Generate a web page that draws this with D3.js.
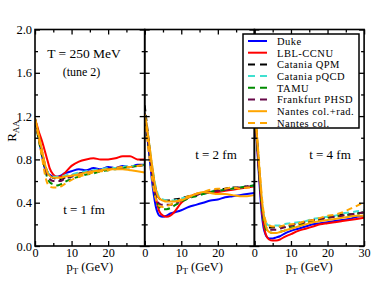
<!DOCTYPE html>
<html><head><meta charset="utf-8">
<script src="https://cdn.jsdelivr.net/npm/d3@7"></script>
<style>
html,body{margin:0;padding:0;background:#fff;}
svg{display:block;font-family:"Liberation Serif","Times New Roman",serif;}
</style></head>
<body><svg id="c" width="374" height="289"></svg>
<script>
// ---- data ----
const pT = [0,0.5,1,1.5,2,2.5,3,3.5,4,5,6,7,8,10,12,14,16,18,20,22,24,26,28,30];
const models = ["Duke","LBL-CCNU","Catania QPM","Catania pQCD","TAMU","Frankfurt PHSD","Nantes col.+rad.","Nantes col."];
const colors = ["#0000ff","#ff0000","#000000","#40e0d0","#008b00","#670748","#ffa500","#ffa500"];
const dashed = [false,false,true,true,true,true,false,true];
const panelLabels = ["t = 1 fm","t = 2 fm","t = 4 fm"];
const xTickLabels = [["0","10","20"],["0","10","20"],["0","10","20","30"]];
const yTickLabels = ["0.0","0.4","0.8","1.2","1.6","2.0"];

// t = 1 fm
const duke_t1 = [1.17,1.09,1.0,0.91,0.82,0.74,0.69,0.67,0.66,0.64,0.64,0.65,0.67,0.69,0.71,0.70,0.72,0.71,0.73,0.72,0.74,0.73,0.75,0.75];
const lbl_t1  = [1.17,1.12,1.06,1.01,0.96,0.90,0.84,0.78,0.72,0.66,0.64,0.64,0.67,0.74,0.78,0.80,0.81,0.80,0.80,0.81,0.83,0.83,0.80,0.80];
const qpm_t1  = [1.18,1.10,1.02,0.94,0.86,0.78,0.72,0.68,0.65,0.63,0.62,0.62,0.63,0.65,0.67,0.68,0.69,0.70,0.71,0.72,0.72,0.73,0.74,0.75];
const pqcd_t1 = [1.16,1.09,1.01,0.93,0.85,0.78,0.72,0.68,0.66,0.64,0.64,0.64,0.65,0.66,0.68,0.69,0.70,0.71,0.72,0.72,0.73,0.74,0.74,0.75];
const tamu_t1 = [1.15,1.07,0.98,0.90,0.82,0.74,0.67,0.62,0.59,0.57,0.56,0.57,0.59,0.62,0.64,0.66,0.67,0.69,0.70,0.71,0.72,0.73,0.74,0.75];
const phsd_t1 = [1.16,1.08,1.00,0.92,0.84,0.76,0.69,0.65,0.62,0.60,0.60,0.60,0.62,0.64,0.66,0.68,0.69,0.70,0.71,0.72,0.73,0.73,0.74,0.75];
const ncr_t1  = [1.18,1.11,1.03,0.95,0.87,0.79,0.72,0.67,0.65,0.63,0.63,0.63,0.64,0.65,0.66,0.68,0.69,0.70,0.71,0.71,0.71,0.70,0.69,0.68];
const nc_t1   = [1.17,1.09,1.00,0.90,0.80,0.70,0.62,0.57,0.55,0.54,0.54,0.55,0.57,0.61,0.64,0.66,0.68,0.69,0.70,0.72,0.73,0.73,0.74,0.75];
// t = 2 fm
const duke_t2 = [1.22,1.08,0.92,0.76,0.60,0.47,0.37,0.31,0.28,0.27,0.28,0.30,0.31,0.33,0.36,0.38,0.40,0.42,0.43,0.45,0.46,0.47,0.48,0.49];
const lbl_t2  = [1.24,1.12,0.98,0.84,0.70,0.57,0.46,0.38,0.32,0.28,0.27,0.28,0.31,0.40,0.45,0.48,0.49,0.50,0.50,0.51,0.52,0.53,0.54,0.55];
const qpm_t2  = [1.30,1.15,1.00,0.86,0.73,0.62,0.53,0.47,0.44,0.42,0.42,0.42,0.43,0.44,0.46,0.47,0.49,0.50,0.52,0.53,0.54,0.54,0.55,0.56];
const pqcd_t2 = [1.24,1.12,1.00,0.87,0.75,0.64,0.55,0.49,0.45,0.43,0.42,0.42,0.42,0.44,0.45,0.47,0.48,0.50,0.51,0.52,0.53,0.54,0.55,0.56];
const tamu_t2 = [1.22,1.08,0.94,0.80,0.66,0.54,0.45,0.39,0.36,0.34,0.34,0.35,0.37,0.41,0.44,0.46,0.48,0.50,0.51,0.52,0.53,0.54,0.55,0.56];
const phsd_t2 = [1.23,1.10,0.96,0.82,0.69,0.57,0.48,0.42,0.39,0.38,0.38,0.38,0.39,0.42,0.45,0.47,0.49,0.50,0.51,0.52,0.53,0.54,0.55,0.55];
const ncr_t2  = [1.22,1.12,1.00,0.88,0.75,0.63,0.53,0.47,0.44,0.42,0.41,0.41,0.41,0.42,0.45,0.48,0.50,0.49,0.48,0.48,0.47,0.46,0.46,0.47];
const nc_t2   = [1.20,1.05,0.90,0.76,0.63,0.52,0.44,0.39,0.37,0.36,0.37,0.38,0.40,0.43,0.46,0.48,0.50,0.52,0.53,0.53,0.54,0.53,0.54,0.54];
// t = 4 fm
const duke_t4 = [1.30,1.05,0.78,0.52,0.30,0.17,0.11,0.08,0.07,0.07,0.08,0.09,0.11,0.14,0.16,0.18,0.20,0.21,0.22,0.23,0.24,0.25,0.27,0.28];
const lbl_t4  = [1.30,1.07,0.82,0.57,0.36,0.21,0.12,0.08,0.06,0.05,0.05,0.06,0.08,0.11,0.14,0.16,0.18,0.20,0.21,0.22,0.23,0.24,0.25,0.26];
const qpm_t4  = [1.35,1.10,0.85,0.60,0.40,0.27,0.20,0.18,0.17,0.17,0.17,0.18,0.18,0.19,0.21,0.22,0.24,0.25,0.27,0.28,0.29,0.29,0.30,0.31];
const pqcd_t4 = [1.32,1.10,0.87,0.63,0.43,0.30,0.23,0.20,0.19,0.19,0.19,0.19,0.20,0.21,0.22,0.23,0.25,0.26,0.27,0.28,0.30,0.31,0.32,0.33];
const tamu_t4 = [1.30,1.07,0.82,0.58,0.37,0.24,0.17,0.14,0.13,0.12,0.12,0.13,0.14,0.17,0.19,0.21,0.23,0.24,0.26,0.27,0.28,0.29,0.30,0.31];
const phsd_t4 = [1.32,1.08,0.84,0.60,0.39,0.26,0.19,0.16,0.15,0.15,0.15,0.16,0.17,0.19,0.21,0.22,0.24,0.25,0.26,0.27,0.28,0.29,0.30,0.31];
const ncr_t4  = [1.30,1.10,0.88,0.65,0.44,0.29,0.20,0.15,0.13,0.12,0.12,0.13,0.14,0.16,0.18,0.20,0.22,0.23,0.24,0.25,0.26,0.27,0.28,0.28];
const nc_t4   = [1.28,1.10,0.90,0.68,0.47,0.32,0.24,0.20,0.19,0.18,0.18,0.18,0.19,0.20,0.21,0.23,0.24,0.26,0.28,0.29,0.31,0.34,0.37,0.41];

const panelSeries = [
  [duke_t1,lbl_t1,qpm_t1,pqcd_t1,tamu_t1,phsd_t1,ncr_t1,nc_t1],
  [duke_t2,lbl_t2,qpm_t2,pqcd_t2,tamu_t2,phsd_t2,ncr_t2,nc_t2],
  [duke_t4,lbl_t4,qpm_t4,pqcd_t4,tamu_t4,phsd_t4,ncr_t4,nc_t4]
];

// ---- layout ----
const svg = d3.select("#c");
const plotTop = 29.5, plotBottom = 246, pw = 109.7, left0 = 35;
const y = d3.scaleLinear().domain([0,2]).range([plotBottom, plotTop]);

panelSeries.forEach((series, p) => {
  const x0 = left0 + p*pw;
  const x = d3.scaleLinear().domain([0,30]).range([x0, x0+pw]);
  const g = svg.append("g");
  g.append("clipPath").attr("id","clip"+p).append("rect")
    .attr("x",x0).attr("y",plotTop).attr("width",pw).attr("height",plotBottom-plotTop);
  const line = d3.line().x((d,i)=>x(pT[i])).y(d=>y(d)).curve(d3.curveMonotoneX);
  const cg = g.append("g").attr("clip-path","url(#clip"+p+")");
  series.forEach((vals, k) => {
    cg.append("path").datum(vals).attr("d", line)
      .attr("fill","none").attr("stroke",colors[k]).attr("stroke-width",2)
      .attr("stroke-dasharray", dashed[k] ? "6,4" : null);
  });

  g.append("rect").attr("x",x0).attr("y",plotTop).attr("width",pw).attr("height",plotBottom-plotTop)
    .attr("fill","none").attr("stroke","#000").attr("stroke-width",1.6);

  const tickStyle = sel => { sel.select(".domain").remove(); sel.selectAll("line").attr("stroke","#000").attr("stroke-width",1.3); };
  const labels = xTickLabels[p];
  const xb = d3.axisBottom(x).tickValues([0,10,20,30]).tickSize(-5).tickPadding(2)
    .tickFormat((d,i)=> labels[i] !== undefined ? labels[i] : "");
  const xbAxis = g.append("g").attr("transform",`translate(0,${plotBottom})`).call(xb).call(tickStyle);
  xbAxis.selectAll("text").attr("font-family","Liberation Serif").attr("font-size",12.2).attr("fill","#000").attr("dy",null).attr("y",10.5);
  g.append("g").attr("transform",`translate(0,${plotBottom})`)
    .call(d3.axisBottom(x).tickValues([5,15,25]).tickSize(-3).tickFormat("")).call(tickStyle);
  g.append("g").attr("transform",`translate(0,${plotTop})`)
    .call(d3.axisTop(x).tickValues([0,10,20,30]).tickSize(-5).tickFormat("")).call(tickStyle);
  g.append("g").attr("transform",`translate(0,${plotTop})`)
    .call(d3.axisTop(x).tickValues([5,15,25]).tickSize(-3).tickFormat("")).call(tickStyle);
  const yl = d3.axisLeft(y).tickValues([0,0.4,0.8,1.2,1.6,2.0]).tickSize(-5)
    .tickFormat((d,i)=> p===0 ? yTickLabels[i] : "");
  const ylAxis = g.append("g").attr("transform",`translate(${x0},0)`).call(yl).call(tickStyle);
  ylAxis.selectAll("text").attr("font-family","Liberation Serif").attr("font-size",12.5).attr("fill","#000").attr("x",-3);
  g.append("g").attr("transform",`translate(${x0},0)`)
    .call(d3.axisLeft(y).tickValues([0.2,0.6,1.0,1.4,1.8]).tickSize(-3).tickFormat("")).call(tickStyle);
  g.append("g").attr("transform",`translate(${x0+pw},0)`)
    .call(d3.axisRight(y).tickValues([0,0.4,0.8,1.2,1.6,2.0]).tickSize(-5).tickFormat("")).call(tickStyle);
  g.append("g").attr("transform",`translate(${x0+pw},0)`)
    .call(d3.axisRight(y).tickValues([0.2,0.6,1.0,1.4,1.8]).tickSize(-3).tickFormat("")).call(tickStyle);

  const xt = g.append("text").attr("x", x0+pw/2).attr("y",270.5).attr("text-anchor","middle")
    .attr("font-size",12.5).attr("fill","#000");
  xt.append("tspan").text("p");
  xt.append("tspan").text("T").attr("font-size",9).attr("dy",3);
  xt.append("tspan").text(" (GeV)").attr("dy",-3);
});

svg.append("text").attr("x",84).attr("y",214).attr("text-anchor","middle").attr("font-size",13).text(panelLabels[0]);
svg.append("text").attr("x",216).attr("y",159).attr("text-anchor","middle").attr("font-size",13).text(panelLabels[1]);
svg.append("text").attr("x",330).attr("y",159).attr("text-anchor","middle").attr("font-size",13).text(panelLabels[2]);
svg.append("text").attr("x",84).attr("y",58).attr("text-anchor","middle").attr("font-size",13.5).text("T = 250 MeV");
svg.append("text").attr("x",81.5).attr("y",76).attr("text-anchor","middle").attr("font-size",12).text("(tune 2)");

const yt = svg.append("text").attr("transform","translate(16,131) rotate(-90)").attr("text-anchor","middle").attr("font-size",13);
yt.append("tspan").text("R");
yt.append("tspan").text("AA").attr("font-size",9).attr("dy",3);

const lg = svg.append("g");
lg.append("rect").attr("x",243).attr("y",34).attr("width",116).attr("height",94)
  .attr("fill","#fff").attr("stroke","#000").attr("stroke-width",1.5);
models.forEach((m,i) => {
  const cy = 41 + i*11.7;
  lg.append("line").attr("x1",248).attr("x2",267).attr("y1",cy).attr("y2",cy)
    .attr("stroke",colors[i]).attr("stroke-width",2).attr("stroke-dasharray", dashed[i] ? "7,5" : null);
  lg.append("text").attr("x",277).attr("y",cy+3.8).attr("font-size",10.5)
    .attr("letter-spacing",0.5).text(m);
});
</script></body></html>
